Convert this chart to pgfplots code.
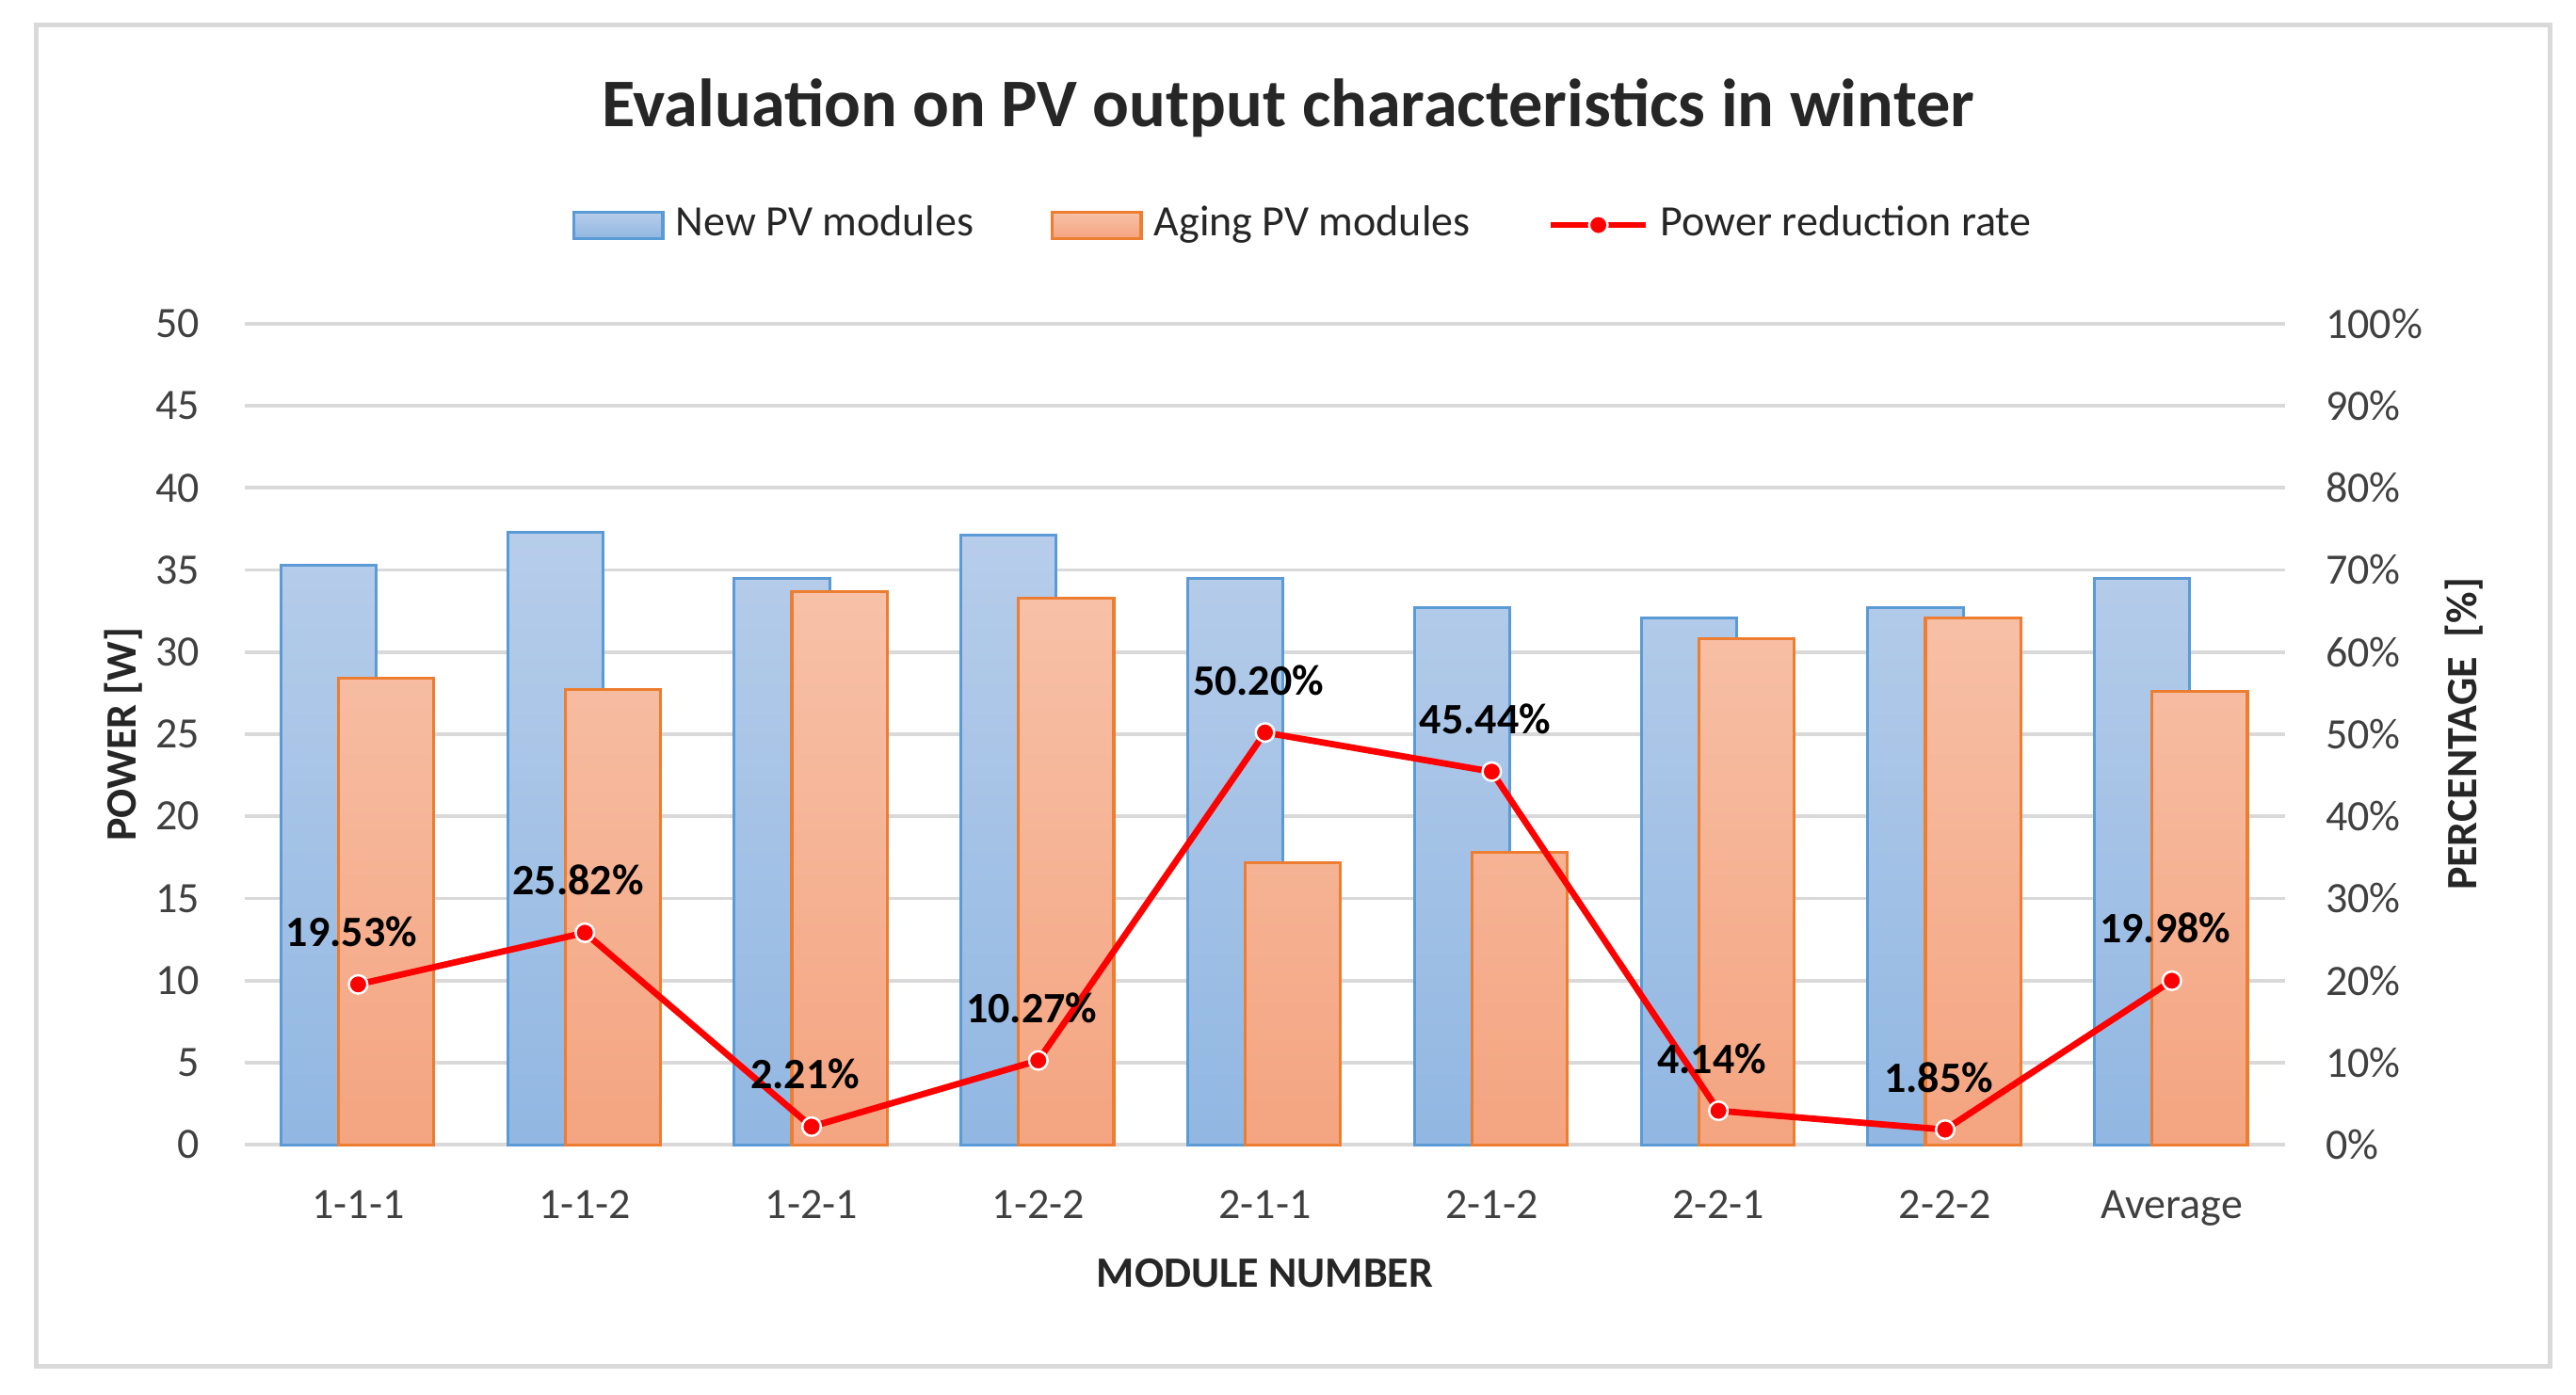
\documentclass[border=0pt]{standalone}
\usepackage{fontspec}
\setmainfont{Carlito}
\usepackage{pgfplots}
\usepackage{pgfplotstable}
\pgfplotsset{compat=1.18}

\definecolor{newtop}{RGB}{183,205,234}
\definecolor{newbot}{RGB}{145,183,226}
\definecolor{newedge}{RGB}{91,155,213}
\definecolor{agetop}{RGB}{247,193,168}
\definecolor{agebot}{RGB}{244,164,128}
\definecolor{ageedge}{RGB}{237,125,49}
\definecolor{gridgray}{RGB}{217,217,217}
\definecolor{txt}{RGB}{64,64,64}

\newcommand\fs{\fontsize{7.5}{9}\selectfont}

\pgfplotstableread{
x new aging rate
0 35.3 28.4 19.53
1 37.3 27.7 25.82
2 34.5 33.7 2.21
3 37.1 33.3 10.27
4 34.5 17.2 50.20
5 32.7 17.8 45.44
6 32.1 30.8 4.14
7 32.7 32.1 1.85
8 34.5 27.6 19.98
}\winter

\pgfplotsset{
  boxlegend/.style={legend image code/.code={\draw[##1] (0cm,-0.08cm) rectangle (0.54cm,0.08cm);}},
  linelegend/.style={legend image code/.code={\draw[mark repeat=2, mark phase=2, ##1] plot coordinates {(0cm,0cm) (0.29cm,0cm) (0.58cm,0cm)};}},
  frame/.style={scale only axis, width=12.42cm, height=5cm, xmin=-0.5, xmax=8.5,
    major tick length=0pt, /pgf/number format/assume math mode=true,
    tick label style={font=\fs, text=txt}, clip=false},
}

\begin{document}
\begin{tikzpicture}
\begin{axis}[frame,
  ymin=0, ymax=50, ytick={0,5,...,50},
  xtick={0,...,8},
  xticklabels={1-1-1,1-1-2,1-2-1,1-2-2,2-1-1,2-1-2,2-2-1,2-2-2,Average},
  axis x line*=bottom, axis y line*=left,
  x axis line style={-, draw=gridgray, line width=0.6pt},
  y axis line style={draw=none},
  ymajorgrids, grid style={gridgray, line width=0.6pt},
  yticklabel style={anchor=east, inner sep=0pt, xshift=-0.27cm},
  xticklabel style={anchor=north, inner sep=0pt, yshift=-0.27cm},
  xlabel={MODULE NUMBER},
  xlabel style={at={(rel axis cs:0.5,0)}, anchor=center, yshift=-0.78cm, font=\fs\bfseries, text=black!85},
  ylabel={POWER [W]},
  ylabel style={at={([xshift=-0.74cm]rel axis cs:0,0.5)}, anchor=center, font=\fs\bfseries, text=black!85},
  legend style={at={(0.521,1.12)}, anchor=center, draw=none, fill=none,
    legend columns=3, font=\fs, text=black!85,
    /tikz/every even column/.append style={column sep=0.40cm}},
  legend cell align=left,
]
\addplot[ybar, bar width=0.58cm, bar shift=-0.18cm, draw=newedge, line width=0.5pt,
  top color=newtop, bottom color=newbot, boxlegend] table[x=x, y=new]{\winter};
\addlegendentry{New PV modules}
\addplot[ybar, bar width=0.58cm, bar shift=0.17cm, draw=ageedge, line width=0.5pt,
  top color=agetop, bottom color=agebot, boxlegend] table[x=x, y=aging]{\winter};
\addlegendentry{Aging PV modules}
\addlegendimage{red, line width=1.1pt, mark=*, mark size=1.6pt,
  mark options={fill=red, draw=white, line width=0.4pt}, linelegend}
\addlegendentry{Power reduction rate}
\end{axis}

\begin{axis}[frame,
  ymin=0, ymax=100, ytick={0,10,...,100},
  axis x line=none, axis y line*=right,
  y axis line style={draw=none},
  yticklabel={\pgfmathprintnumber{\tick}\%},
  yticklabel style={anchor=west, inner sep=0pt, xshift=0.24cm},
  ylabel={PERCENTAGE\ \ [\%]},
  ylabel style={at={([xshift=1.09cm]rel axis cs:1,0.5)}, anchor=center, font=\fs\bfseries, text=black!85},
]
\addplot[red, line width=1.1pt, mark=*, mark size=1.6pt,
  mark options={fill=red, draw=white, line width=0.4pt},
  nodes near coords={\pgfmathprintnumber[fixed,fixed zerofill,precision=2]{\pgfplotspointmeta}\%},
  nodes near coords style={font=\fs\bfseries, text=black, anchor=south, inner sep=0pt, yshift=0.22cm, xshift=-0.04cm}]
  table[x=x, y=rate]{\winter};
\end{axis}

\node[font=\fontsize{11.8}{14}\selectfont\bfseries, text=black!85] at (6.35,6.31)
  {Evaluation on PV output characteristics in winter};
\draw[gridgray, line width=0.8pt] (-1.27,-1.35) rectangle (14.03,6.82);
\path (-1.49,-1.52) rectangle (14.19,6.97);
\end{tikzpicture}
\end{document}
